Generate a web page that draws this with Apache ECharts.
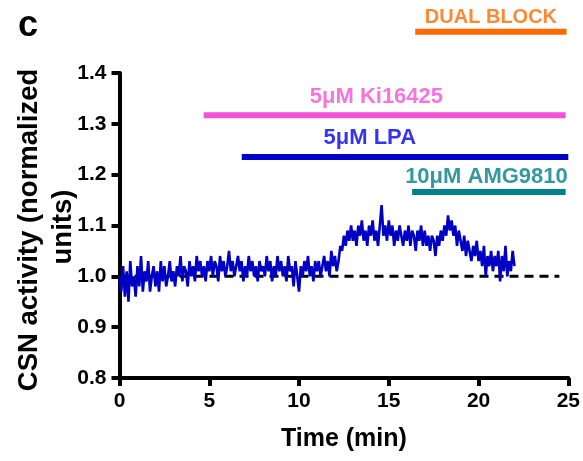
<!DOCTYPE html>
<html>
<head>
<meta charset="utf-8">
<script src="https://cdn.jsdelivr.net/npm/echarts@6/dist/echarts.min.js"></script>
<style>
  html, body { margin: 0; padding: 0; background: #fff; }
  #chart { width: 583px; height: 461px; }
</style>
</head>
<body>
<div id="chart"></div>
<script>
// CSN activity trace, sampled every 0.1 min from 0 to 22 min
const sampleStep = 0.1;
const csnActivity = [
  1.00,0.97,1.02,0.96,1.01,0.95,1.03,0.98,1.00,0.96,
  1.02,0.98,1.04,0.97,1.01,0.99,1.03,0.97,1.00,1.02,
  0.98,1.01,0.97,1.03,0.99,1.02,0.98,1.00,1.03,0.99,
  1.01,0.98,1.02,1.00,1.04,0.99,1.02,1.01,0.98,1.03,
  1.00,1.02,0.99,1.04,1.01,1.03,1.00,1.02,0.99,1.03,
  1.01,1.04,1.00,1.03,1.02,0.99,1.04,1.01,1.03,1.00,
  1.02,1.05,1.01,1.03,1.00,1.02,1.04,1.01,1.03,0.99,
  1.02,1.00,1.04,1.01,1.03,1.00,1.02,0.99,1.03,1.01,
  1.02,1.00,1.04,1.01,1.03,0.99,1.02,1.00,1.04,1.01,
  1.03,1.00,1.02,0.99,1.04,1.01,1.02,0.98,1.03,1.00,
  0.97,1.02,1.00,1.03,1.01,1.04,1.00,1.02,0.99,1.03,
  1.01,1.03,1.00,1.02,1.04,1.01,1.03,1.00,1.05,1.02,
  1.04,1.01,1.03,1.06,1.05,1.08,1.06,1.09,1.07,1.10,
  1.07,1.09,1.06,1.10,1.08,1.11,1.07,1.09,1.06,1.10,
  1.08,1.11,1.07,1.09,1.06,1.10,1.14,1.08,1.10,1.07,
  1.11,1.08,1.10,1.06,1.09,1.07,1.10,1.08,1.06,1.09,
  1.07,1.10,1.06,1.09,1.08,1.05,1.09,1.07,1.10,1.06,
  1.09,1.06,1.08,1.05,1.08,1.07,1.04,1.08,1.06,1.09,
  1.07,1.10,1.08,1.12,1.09,1.11,1.08,1.10,1.06,1.09,
  1.07,1.05,1.08,1.04,1.07,1.05,1.03,1.06,1.04,1.07,
  1.03,1.05,1.02,1.06,1.00,1.04,1.02,1.05,1.01,1.04,
  1.02,1.05,0.99,1.04,1.01,1.06,1.00,1.03,1.01,1.05,
  1.02
];

// Baseline reference level
const baselineLevel = 1.0;
const baselineSpan = [0, 24.5];

// Drug application periods
const drugNames  = ['5μM Ki16425', '5μM LPA', '10μM AMG9810', 'DUAL BLOCK'];
const drugStart  = [4.69, 6.81, 16.3, 16.47];
const drugEnd    = [24.85, 25.0, 24.85, 24.9];
const drugLevel  = [1.317, 1.235, 1.166, 1.481];
// Label anchor for each period: [time, level]
const drugLabelAt = [[14.31, 1.353], [13.94, 1.272], [20.44, 1.196], [20.69, 1.510]];
const drugFontSize = [22, 22, 22, 20];
const drugColors = ['#f551d8', '#0000c8', '#00808a', '#ff6a00'];
const drugTextColors = ['#f551d8', '#0000f0', '#00808a', '#ff6a00'];

// Axis ticks
const xTicks = [0, 5, 10, 15, 20, 25];
const yTicks = [0.8, 0.9, 1.0, 1.1, 1.2, 1.3, 1.4];

const FONT = 'Liberation Sans, Arial, sans-serif';

const traceData = csnActivity.map((v, i) => [+(i * sampleStep).toFixed(2), v]);

const series = [];

series.push({
  type: 'line',
  data: [[baselineSpan[0], baselineLevel], [baselineSpan[1], baselineLevel]],
  symbol: 'none',
  lineStyle: { color: '#000', width: 3, type: [9, 6] },
  z: 1,
  silent: true
});

series.push({
  type: 'line',
  data: traceData,
  symbol: 'none',
  lineStyle: { color: '#0000c4', width: 2.6 },
  z: 3,
  silent: true
});

drugNames.forEach((name, i) => {
  series.push({
    type: 'line',
    data: [[drugStart[i], drugLevel[i]], [drugEnd[i], drugLevel[i]]],
    symbol: 'none',
    clip: false,
    lineStyle: { color: drugColors[i], width: 6, cap: 'butt' },
    silent: true
  });
  series.push({
    type: 'scatter',
    data: [{ value: drugLabelAt[i], name: name }],
    symbolSize: 0,
    clip: false,
    silent: true,
    label: {
      show: true,
      position: 'inside',
      formatter: '{b}',
      color: drugTextColors[i],
      fontFamily: FONT,
      fontWeight: 'bold',
      fontSize: drugFontSize[i]
    }
  });
});

const chart = echarts.init(document.getElementById('chart'), null, { renderer: 'canvas' });
chart.setOption({
  animation: false,
  backgroundColor: '#fff',
  grid: { left: 119.5, right: 13.5, top: 73, bottom: 83, containLabel: false },
  xAxis: {
    type: 'value',
    min: xTicks[0],
    max: xTicks[xTicks.length - 1],
    interval: 5,
    axisLine: { show: true, lineStyle: { color: '#000', width: 4 } },
    axisTick: { show: true, length: 8, lineStyle: { color: '#000', width: 4 } },
    splitLine: { show: false },
    axisLabel: { color: '#000', fontFamily: FONT, fontWeight: 'bold', fontSize: 21, margin: 13 },
    name: 'Time (min)',
    nameLocation: 'middle',
    nameGap: 49,
    nameTextStyle: { color: '#000', fontFamily: FONT, fontWeight: 'bold', fontSize: 25 }
  },
  yAxis: {
    type: 'value',
    min: yTicks[0],
    max: yTicks[yTicks.length - 1],
    interval: 0.1,
    axisLine: { show: true, lineStyle: { color: '#000', width: 4 } },
    axisTick: { show: true, length: 8, lineStyle: { color: '#000', width: 4 } },
    splitLine: { show: false },
    axisLabel: {
      color: '#000', fontFamily: FONT, fontWeight: 'bold', fontSize: 21, margin: 13,
      padding: [6, 0, 0, 0],
      formatter: v => v.toFixed(1)
    }
  },
  graphic: [
    {
      type: 'text', left: 18, top: 8,
      style: { text: 'c', fill: '#000', font: 'bold 36px ' + FONT }
    },
    {
      type: 'text', x: 29, y: 230, rotation: Math.PI / 2,
      style: {
        text: 'CSN activity (normalized', fill: '#000', font: 'bold 27.5px ' + FONT,
        textAlign: 'center', textVerticalAlign: 'middle'
      }
    },
    {
      type: 'text', x: 63, y: 227, rotation: Math.PI / 2,
      style: {
        text: 'units)', fill: '#000', font: 'bold 27.5px ' + FONT,
        textAlign: 'center', textVerticalAlign: 'middle'
      }
    }
  ],
  series: series
});
</script>
</body>
</html>
